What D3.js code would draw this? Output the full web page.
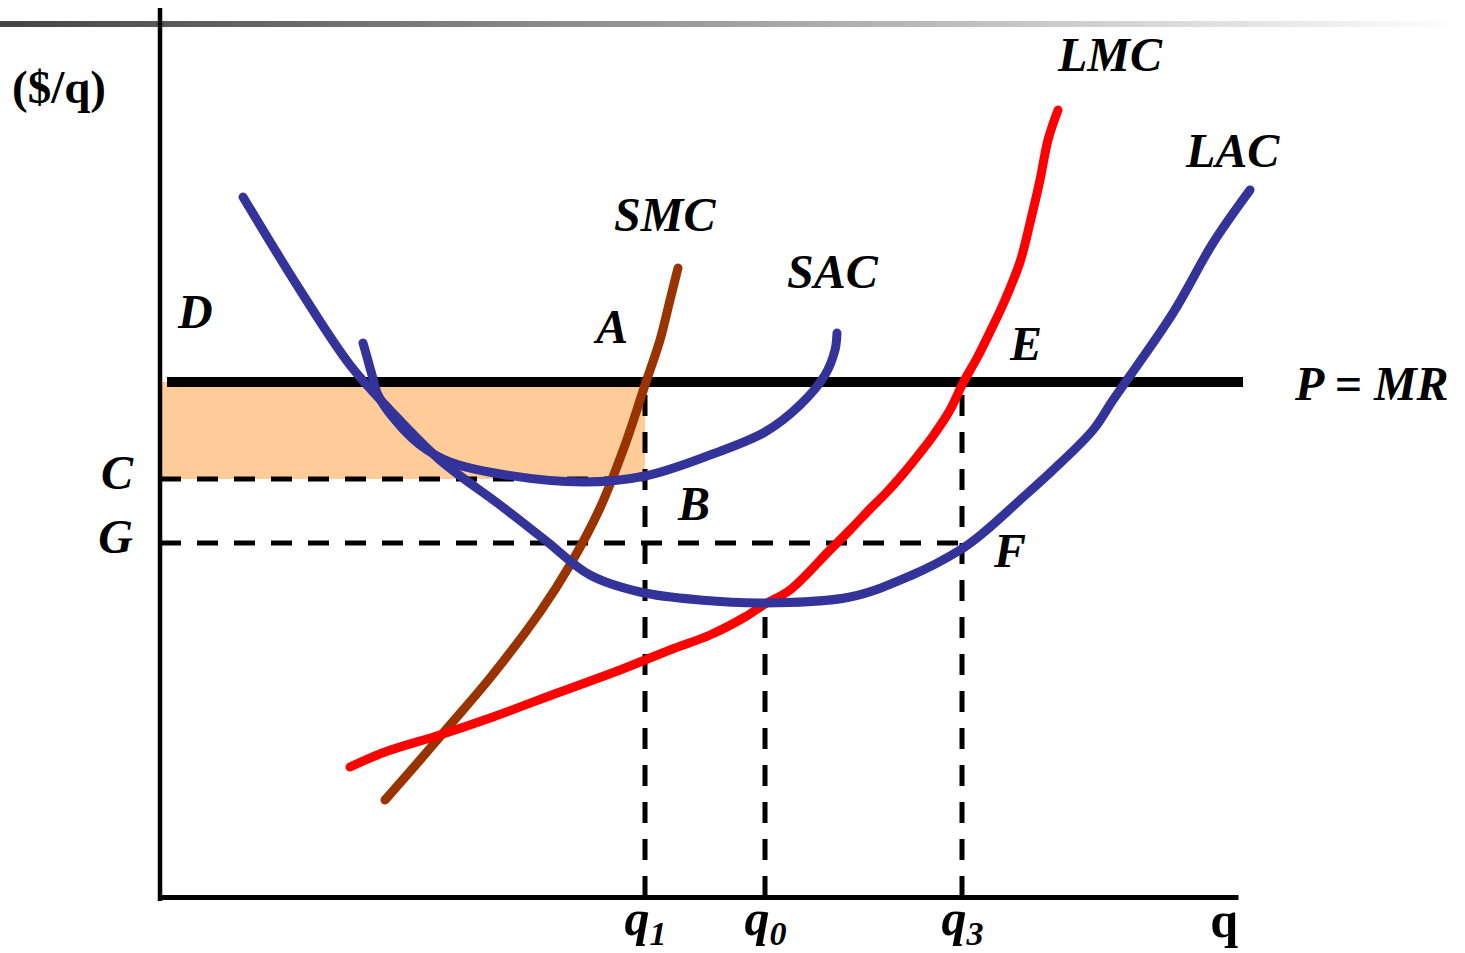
<!DOCTYPE html>
<html>
<head>
<meta charset="utf-8">
<script src="https://cdn.jsdelivr.net/npm/d3@7"></script>
<style>
  body { margin: 0; background: #fff; }
  svg text { font-family: "Liberation Serif", "Times New Roman", serif; font-weight: bold; }
</style>
</head>
<body>
<svg id="chart" width="1465" height="953"></svg>
<script>
// quantity / price in chart units (origin at the axis corner)
const qMax = 1078, pMax = 889;

// price level and cost levels
const priceLevel = 515;   // P = MR
const levelC = 418;
const levelG = 354;

// quantities marked on the axis
const qTicks = [
  { q: 485, name: 'q', sub: '1' },
  { q: 605, name: 'q', sub: '0' },
  { q: 802, name: 'q', sub: '3' }
];
const lacMin = 296;

// curves
const lacQ = [83, 140, 190, 230, 280, 340, 385, 430, 480, 540, 605, 690, 750, 800, 823, 860, 893, 933, 953, 1013, 1053, 1090];
const lacP = [700, 607, 532, 487, 437, 392, 357, 322, 305, 297, 294, 300, 321, 347, 364, 397, 427, 467, 497, 584, 654, 707];

const sacQ = [203, 207, 212, 218, 235, 260, 290, 340, 423, 485, 550, 605, 640, 665, 675, 677];
const sacP = [554, 540, 522, 502, 477, 452, 435, 423, 415, 421, 442, 465, 492, 522, 547, 564];

const smcQ = [225, 260, 290, 330, 380, 410, 440, 465, 485, 500, 510, 518];
const smcP = [97, 137, 172, 219, 285, 332, 389, 452, 512, 557, 597, 629];

const lmcQ = [190, 225, 280, 330, 400, 460, 510, 550, 585, 605, 630, 670, 690, 710, 727, 743, 760, 773, 790, 803, 817, 830, 845, 860, 870, 880, 888, 898];
const lmcP = [130, 145, 162, 179, 205, 227, 247, 262, 280, 293, 307, 347, 367, 388, 405, 423, 444, 461, 487, 514, 539, 565, 597, 635, 674, 717, 757, 787];

// text annotations (chart units, left edge / baseline)
const labels = [
  { t: 'LMC', q: 898, p: 826 },
  { t: 'LAC', q: 1026, p: 730 },
  { t: 'SMC', q: 454, p: 666 },
  { t: 'SAC', q: 627, p: 609 },
  { t: 'D', q: 18, p: 569 },
  { t: 'A', q: 436, p: 554 },
  { t: 'E', q: 850, p: 537 },
  { t: 'P = MR', q: 1135, p: 497 },
  { t: 'B', q: 518, p: 377 },
  { t: 'F', q: 834, p: 330 }
];

const svg = d3.select('#chart');
const W = +svg.attr('width');

const x = d3.scaleLinear().domain([0, qMax]).range([160, 1238]);
const y = d3.scaleLinear().domain([0, pMax]).range([897, 8]);

// slide header rule
const grad = svg.append('defs').append('linearGradient').attr('id', 'rule');
grad.append('stop').attr('offset', '0%').attr('stop-color', '#444');
grad.append('stop').attr('offset', '100%').attr('stop-color', '#fff');
svg.append('rect')
  .attr('x', 0).attr('y', 21).attr('width', W).attr('height', 6)
  .attr('fill', 'url(#rule)');

// profit area
svg.append('rect')
  .attr('x', x(0)).attr('y', y(priceLevel))
  .attr('width', x(qTicks[0].q) - x(0))
  .attr('height', y(levelC) - y(priceLevel))
  .attr('fill', '#FFCC99');

// dashed guide lines
const dashed = [
  [[0, levelC], [qTicks[0].q, levelC]],
  [[0, levelG], [qTicks[2].q, levelG]],
  [[qTicks[0].q, 0], [qTicks[0].q, priceLevel]],
  [[qTicks[1].q, 0], [qTicks[1].q, lacMin]],
  [[qTicks[2].q, 0], [qTicks[2].q, priceLevel]]
];
svg.append('g').selectAll('line').data(dashed).join('line')
  .attr('x1', d => x(d[0][0])).attr('y1', d => y(d[0][1]))
  .attr('x2', d => x(d[1][0])).attr('y2', d => y(d[1][1]))
  .attr('stroke', '#000').attr('stroke-width', 5)
  .attr('stroke-dasharray', '21,16');

// P = MR
svg.append('line')
  .attr('x1', x(7)).attr('x2', x(1083))
  .attr('y1', y(priceLevel)).attr('y2', y(priceLevel))
  .attr('stroke', '#000').attr('stroke-width', 10);

// axes
const xAxis = svg.append('g')
  .attr('transform', `translate(0,${y(0)})`)
  .call(d3.axisBottom(x).tickValues(qTicks.map(d => d.q)).tickSize(0).tickSizeOuter(0));
xAxis.select('.domain').attr('stroke-width', 5);
xAxis.selectAll('.tick text').remove();
xAxis.selectAll('.tick').data(qTicks).append('text')
  .attr('y', 38).attr('fill', '#000')
  .attr('text-anchor', 'middle')
  .style('font-size', '50px').style('font-style', 'italic')
  .each(function(d) {
    const t = d3.select(this);
    t.append('tspan').text(d.name);
    t.append('tspan').attr('dy', 10).style('font-size', '34px').text(d.sub);
  });

const yAxis = svg.append('g')
  .attr('transform', `translate(${x(0)},0)`)
  .call(d3.axisLeft(y).tickValues([levelC, levelG]).tickSize(0).tickSizeOuter(0)
    .tickPadding(27).tickFormat((d, i) => ['C', 'G'][i]));
yAxis.select('.domain').attr('stroke-width', 4.5).attr('d', `M0,${y(pMax)}V${y(0) + 4}`);
yAxis.selectAll('.tick text')
  .attr('dy', 9).attr('fill', '#000')
  .style('font-size', '48px').style('font-style', 'italic')
  .style('font-family', '"Liberation Serif", serif');

// curves
const line = d3.line().x(d => x(d[0])).y(d => y(d[1])).curve(d3.curveCatmullRom.alpha(0.5));
const curves = [
  { q: smcQ, p: smcP, color: '#993300' },
  { q: lmcQ, p: lmcP, color: '#FF0000' },
  { q: lacQ, p: lacP, color: '#333399' },
  { q: sacQ, p: sacP, color: '#333399' }
];
svg.append('g').selectAll('path').data(curves).join('path')
  .attr('d', c => line(d3.zip(c.q, c.p)))
  .attr('fill', 'none')
  .attr('stroke', c => c.color)
  .attr('stroke-width', 9)
  .attr('stroke-linecap', 'round')
  .attr('stroke-linejoin', 'round');

// labels
svg.append('g').selectAll('text').data(labels).join('text')
  .attr('x', d => x(d.q)).attr('y', d => y(d.p))
  .style('font-size', '48px').style('font-style', 'italic')
  .text(d => d.t);

svg.append('text')
  .attr('x', x(qMax)).attr('y', 937)
  .attr('text-anchor', 'end')
  .style('font-size', '50px')
  .text('q');

svg.append('text')
  .attr('x', 12).attr('y', 103)
  .style('font-size', '47px')
  .text('($/q)');
</script>
</body>
</html>
